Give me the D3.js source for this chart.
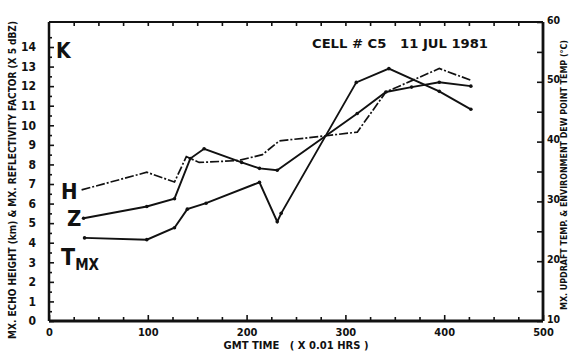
<!DOCTYPE html>
<html><head><meta charset="utf-8">
<script src="https://cdn.jsdelivr.net/npm/d3@7"></script>
<style>
html,body{margin:0;padding:0;background:#fff;}
svg{display:block;}
text{font-family:"Liberation Sans Narrow","DejaVu Sans Condensed",sans-serif;font-weight:bold;fill:#111;white-space:pre;}
</style></head>
<body>
<svg id="chart" width="569" height="355"></svg>
<script>
// ---- data ----
const hTime   = [33, 99, 127, 139, 152, 192, 216, 233, 278, 312, 341, 395, 427];
const hValues = [6.7, 7.6, 7.1, 8.4, 8.1, 8.2, 8.5, 9.2, 9.45, 9.65, 11.7, 12.9, 12.3];
const zTime   = [35, 99, 127, 143, 157, 195, 213, 231, 312, 341, 367, 395, 427];
const zValues = [5.25, 5.85, 6.25, 8.3, 8.8, 8.1, 7.8, 7.7, 10.6, 11.7, 11.95, 12.2, 12.0];
const tTime   = [36, 99, 127, 140, 159, 213, 231, 235, 311, 344, 395, 427];
const tValues = [23.9, 23.6, 25.6, 28.7, 29.7, 33.2, 26.6, 28.0, 49.9, 52.2, 48.4, 45.4];
const xTickLabels = [0, 100, 200, 300, 400, 500];
const leftTickLabels = [0,1,2,3,4,5,6,7,8,9,10,11,12,13,14];
const rightTickLabels = [10, 20, 30, 40, 50, 60];

const svg = d3.select("#chart");
const L = 49, R = 543, T = 22, B = 321;
const x = d3.scaleLinear([0, 500], [L, R]);
const yL = d3.scaleLinear([0, 14], [B, 47]);
const yR = d3.scaleLinear([10, 60], [B, T]);

// frame
svg.append("line").attr("x1", L).attr("x2", R).attr("y1", T).attr("y2", T).attr("stroke", "#111").attr("stroke-width", 2);
svg.append("line").attr("x1", L).attr("x2", R).attr("y1", B).attr("y2", B).attr("stroke", "#111").attr("stroke-width", 2.8);
svg.append("line").attr("x1", L).attr("x2", L).attr("y1", T).attr("y2", B).attr("stroke", "#111").attr("stroke-width", 2.5);
svg.append("line").attr("x1", R).attr("x2", R).attr("y1", T).attr("y2", B).attr("stroke", "#111").attr("stroke-width", 2.8);

function strip(g){ g.select(".domain").remove(); g.selectAll("line").attr("stroke","#111").attr("stroke-width",1.6); }

// bottom axis (inward ticks)
const xMinor = d3.range(25, 500, 25).filter(v => v % 100 !== 0);
svg.append("g").attr("transform", `translate(0,${B})`)
  .call(d3.axisBottom(x).tickValues(xMinor).tickSize(-4).tickFormat(""))
  .call(strip);
svg.append("g").attr("transform", `translate(0,${B})`)
  .call(d3.axisBottom(x).tickValues(xTickLabels).tickSize(-6).tickPadding(13))
  .call(strip)
  .call(g => g.selectAll("text").attr("font-size", 11).attr("dy", "0.2em"));
// top axis ticks
svg.append("g").attr("transform", `translate(0,${T})`)
  .call(d3.axisTop(x).tickValues(d3.range(25, 500, 25)).tickSize(-4).tickFormat(""))
  .call(strip);

// left axis
svg.append("g").attr("transform", `translate(${L},0)`)
  .call(d3.axisLeft(yL).tickValues(d3.range(0.5, 15, 1)).tickSize(-3).tickFormat(""))
  .call(strip);
svg.append("g").attr("transform", `translate(${L},0)`)
  .call(d3.axisLeft(yL).tickValues(leftTickLabels).tickSize(-5).tickPadding(13))
  .call(strip)
  .call(g => g.selectAll("text").attr("font-size", 12));

// right axis
svg.append("g").attr("transform", `translate(${R},0)`)
  .call(d3.axisRight(yR).tickValues(d3.range(15, 60, 10)).tickSize(-6).tickFormat(""))
  .call(strip);
svg.append("g").attr("transform", `translate(${R},0)`)
  .call(d3.axisRight(yR).tickValues(rightTickLabels).tickSize(-6).tickPadding(4))
  .call(strip)
  .call(g => g.selectAll("text").attr("font-size", 10.5).attr("dy", "0.1em"));

// series
const lineL = d3.line().x(d => x(d[0])).y(d => yL(d[1]));
const lineR = d3.line().x(d => x(d[0])).y(d => yR(d[1]));
const hData = d3.zip(hTime, hValues);
const zData = d3.zip(zTime, zValues);
const tData = d3.zip(tTime, tValues);

svg.append("path").datum(hData).attr("d", lineL).attr("fill", "none").attr("stroke", "#111")
  .attr("stroke-width", 1.7).attr("stroke-dasharray", "9,2,2,2");
svg.append("path").datum(zData).attr("d", lineL).attr("fill", "none").attr("stroke", "#111").attr("stroke-width", 1.9);
svg.append("path").datum(tData).attr("d", lineR).attr("fill", "none").attr("stroke", "#111").attr("stroke-width", 1.9);
svg.append("g").selectAll("circle").data(zData).join("circle")
  .attr("cx", d => x(d[0])).attr("cy", d => yL(d[1])).attr("r", 1.8).attr("fill", "#111");
svg.append("g").selectAll("circle").data(tData).join("circle")
  .attr("cx", d => x(d[0])).attr("cy", d => yR(d[1])).attr("r", 1.8).attr("fill", "#111");

// annotations
svg.append("text").attr("x", 56).attr("y", 58).attr("font-size", 21).attr("font-family", "Liberation Sans, DejaVu Sans, sans-serif").text("K");
svg.append("text").attr("x", 312).attr("y", 48).attr("font-size", 11.5).attr("font-family", "DejaVu Sans Mono, monospace")
  .attr("textLength", 176).attr("lengthAdjust", "spacingAndGlyphs").text("CELL # C5   11 JUL 1981");
svg.append("text").attr("x", 61).attr("y", 199).attr("font-size", 22).attr("font-family", "Liberation Sans, DejaVu Sans, sans-serif").text("H");
svg.append("text").attr("x", 67).attr("y", 226).attr("font-size", 22).attr("font-family", "Liberation Sans, DejaVu Sans, sans-serif").text("Z");
const tl = svg.append("text").attr("x", 61).attr("y", 265).attr("font-size", 23).attr("font-family", "Liberation Sans, DejaVu Sans, sans-serif");
tl.append("tspan").text("T");
tl.append("tspan").attr("font-size", 15).attr("dy", 5).text("MX");

// axis titles
svg.append("text").attr("x", 296).attr("y", 349).attr("text-anchor", "middle").attr("font-size", 10.5)
  .attr("textLength", 145).attr("lengthAdjust", "spacingAndGlyphs").text("GMT TIME   ( X 0.01 HRS )");
svg.append("text").attr("transform", "translate(16,180) rotate(-90)").attr("text-anchor", "middle").attr("font-size", 10.5)
  .attr("textLength", 318).attr("lengthAdjust", "spacingAndGlyphs").text("MX. ECHO HEIGHT (km) & MX. REFLECTIVITY FACTOR (X 5 dBZ)");
svg.append("text").attr("transform", "translate(567,175) rotate(-90)").attr("text-anchor", "middle").attr("font-size", 8.5)
  .attr("textLength", 270).attr("lengthAdjust", "spacingAndGlyphs").text("MX. UPDRAFT TEMP. & ENVIRONMENT DEW POINT TEMP (°C)");
</script>
</body></html>
